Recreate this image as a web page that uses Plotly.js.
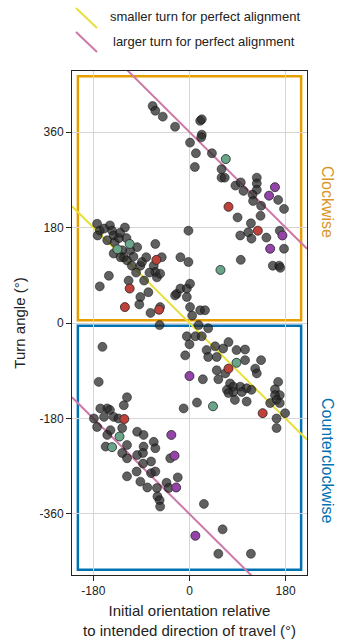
<!DOCTYPE html>
<html>
<head>
<meta charset="utf-8">
<script src="https://cdn.plot.ly/plotly-3.0.1.min.js"></script>
<style>html,body{margin:0;padding:0;background:#fff;}#chart{width:337px;height:642px;}</style>
</head>
<body>
<div id="chart"></div>
<script>
// Grey (unlabelled) trials
const greyX = [-69,-64,-50,-27,20,23,23,22,1,12,42,10,60,60,66,86,96,126,126,
  101,126,118,119,134,166,177,90,133,115,95,110,116,144,169,177,96,156,168,170,
  -173,-168,-172,-149,-145,-142,-121,-154,-140,-126,-123,-111,-98,-142,-129,-117,-108,-92,-89,-81,-64,-67,-52,-64,-61,-55,-151,-168,-114,-92,-77,-94,-73,-55,-17,-2,-2,-24,-17,-5,1,-5,-27,1,20,29,5,
  -160,-132,-118,-105,-100,-130,-75,-85,
  -56,17,35,-5,11,23,0,32,48,-8,35,51,63,73,88,104,104,123,126,134,51,54,67,25,-170,-163,76,82,70,95,107,82,98,73,85,107,116,166,160,169,160,163,151,169,179,163,163,14,-11,
  -117,-123,-154,-167,-149,-142,-160,-179,-173,-133,-148,-126,-98,-86,-67,-86,-117,-154,-157,
  -126,-117,-98,-64,-87,-72,-87,-117,-99,-92,-72,-64,-79,-61,-43,-39,-22,-36,-60,-56,-55,27,62,54,115];
const greyY = [409,400,389,370,381,384,355,350,340,320,320,294,290,274,274,259,265,274,263,
  249,251,242,230,221,232,215,199,202,188,165,171,159,161,174,140,119,108,108,104,
  187,174,165,184,174,165,180,156,152,137,124,137,143,131,124,118,108,108,115,124,149,108,124,96,86,93,89,69,80,49,58,35,19,30,124,115,174,55,65,65,74,49,52,30,24,24,14,
  178,160,160,125,95,170,95,80,
  -4,-4,-10,-25,-25,-25,-40,-51,-44,-61,-64,-64,-48,-36,-51,-50,-70,-86,-95,-70,-89,-106,-95,-106,-111,-45,-114,-120,-126,-120,-123,-130,-130,-132,-145,-148,-126,-111,-125,-136,-136,-145,-151,-151,-170,-180,-198,-150,-161,
  -140,-155,-161,-161,-164,-177,-177,-180,-196,-180,-202,-198,-205,-211,-224,-233,-230,-211,-233,
  -245,-255,-249,-236,-245,-261,-265,-289,-280,-299,-283,-280,-310,-311,-301,-311,-291,-255,-327,-334,-346,-341,-389,-435,-435];
// Highlighted trials
const redX = [73,128,-62,-112,-121,-57,73,137,-122];
const redY = [219,174,119,65,30,25,-86,-170,-181];
const greenX = [68,58,-135,-112,88,44,-131,-145];
const greenY = [309,100,139,149,-75,-157,-214,-234];
const purpleX = [160,149,151,174,0,-34,-28,-25,11];
const purpleY = [256,240,140,165,-100,-211,-250,-310,-401];
// Reference lines: turn = -orientation + offset
const lineX = [-220, 220];
const smallerOffset = [0];
const largerOffsets = [360, -360];
const xTicks = [-180, 0, 180];
const yTicks = [-360, -180, 0, 180, 360];

const FONT = '"Liberation Sans", Arial, Helvetica, sans-serif';
const YEL = '#e8df3a', MAG = '#cc79a7', ORG = '#e69f00', BLU = '#0072b2';

const traces = [];
smallerOffset.forEach(o => traces.push({x: lineX, y: lineX.map(v => -v + o), mode: 'lines',
  line: {color: YEL, width: 2}, hoverinfo: 'skip', showlegend: false}));
largerOffsets.forEach(o => traces.push({x: lineX, y: lineX.map(v => -v + o), mode: 'lines',
  line: {color: MAG, width: 2}, hoverinfo: 'skip', showlegend: false}));
traces.push({x: greyX, y: greyY, mode: 'markers', showlegend: false,
  marker: {size: 9, color: 'rgba(40,40,40,0.74)', line: {width: 0.8, color: 'rgba(0,0,0,0.55)'}}});
[[redX, redY, '#c0403a'], [greenX, greenY, '#6aa58a'], [purpleX, purpleY, '#9444a8']].forEach(([xs, ys, c]) =>
  traces.push({x: xs, y: ys, mode: 'markers', showlegend: false,
    marker: {size: 9, color: c, line: {width: 0.8, color: '#222'}}}));

// paper coords helpers (plot area: l=72, r=30, t=71, b=67)
const PL = 72, PW = 235, PB = 575, PH = 504;
const px = v => (v - PL) / PW, py = v => (PB - v) / PH;

const layout = {
  width: 337, height: 642,
  margin: {l: PL, r: 30, t: 71, b: 67},
  paper_bgcolor: '#fff', plot_bgcolor: '#fff',
  font: {family: FONT, size: 12, color: '#222'},
  xaxis: {range: [-220, 220], tickvals: xTicks, ticktext: xTicks.map(String), ticks: 'outside', ticklen: 5,
    tickcolor: '#222', showline: true, mirror: true, linecolor: '#222', linewidth: 1,
    showgrid: true, gridcolor: '#d6d6d6', gridwidth: 1, zeroline: false,
    tickfont: {size: 12, color: '#222'},
    title: {text: 'Initial orientation relative<br>to intended direction of travel (°)', font: {size: 15, color: '#222'}, standoff: 8}},
  yaxis: {range: [-475, 475], tickvals: yTicks, ticktext: yTicks.map(String), ticks: 'outside', ticklen: 5,
    tickcolor: '#222', showline: true, mirror: true, linecolor: '#222', linewidth: 1,
    showgrid: true, gridcolor: '#d6d6d6', gridwidth: 1, zeroline: false,
    tickfont: {size: 12, color: '#222'},
    title: {text: 'Turn angle (°)', font: {size: 15, color: '#222'}, standoff: 10}},
  shapes: [
    {type: 'rect', xref: 'x', yref: 'y', x0: -209, x1: 209, y0: 5, y1: 465, line: {color: ORG, width: 2.5}, layer: 'below'},
    {type: 'rect', xref: 'x', yref: 'y', x0: -209, x1: 209, y0: -465, y1: -5, line: {color: BLU, width: 2.5}, layer: 'below'},
    {type: 'line', xref: 'paper', yref: 'paper', x0: px(76), x1: px(97), y0: py(8), y1: py(28), line: {color: YEL, width: 2}},
    {type: 'line', xref: 'paper', yref: 'paper', x0: px(76), x1: px(97), y0: py(32), y1: py(52), line: {color: MAG, width: 2}}
  ],
  annotations: [
    {xref: 'paper', yref: 'paper', x: px(204.5), y: py(17), text: 'smaller turn for perfect alignment', showarrow: false,
      xanchor: 'center', yanchor: 'middle', font: {size: 13, color: '#222'}},
    {xref: 'paper', yref: 'paper', x: px(204), y: py(42), text: 'larger turn for perfect alignment', showarrow: false,
      xanchor: 'center', yanchor: 'middle', font: {size: 13, color: '#222'}},
    {xref: 'paper', yref: 'paper', x: px(327), y: py(202), text: 'Clockwise', showarrow: false, textangle: 90,
      xanchor: 'center', yanchor: 'middle', font: {size: 16, color: '#d9962a'}},
    {xref: 'paper', yref: 'paper', x: px(328), y: py(460), text: 'Counterclockwise', showarrow: false, textangle: 90,
      xanchor: 'center', yanchor: 'middle', font: {size: 16, color: BLU}}
  ]
};
Plotly.newPlot('chart', traces, layout, {staticPlot: true, displayModeBar: false});
</script>
</body>
</html>
